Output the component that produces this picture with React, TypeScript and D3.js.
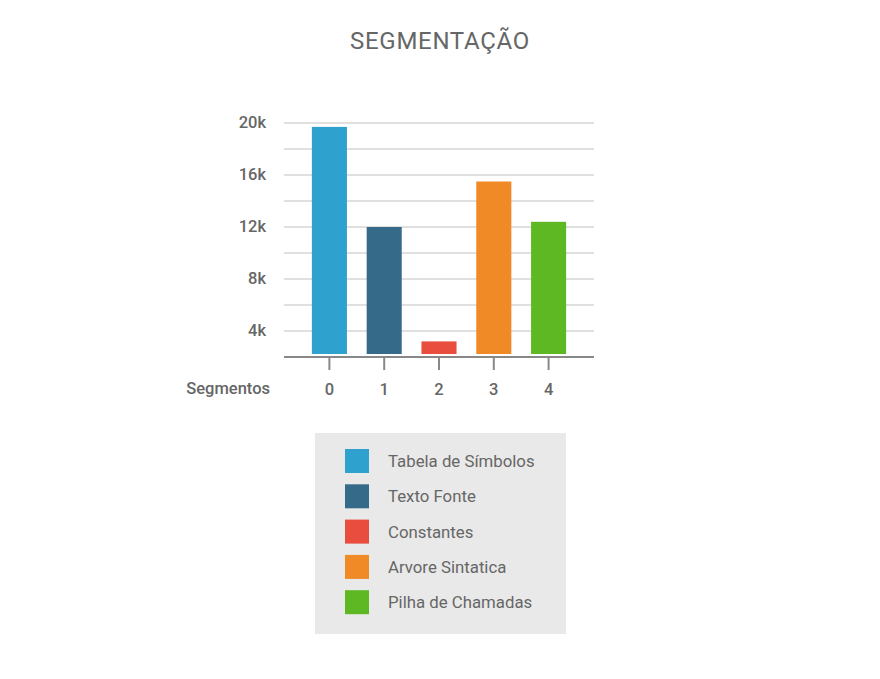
import React, { useRef, useEffect } from 'react';
import { select, scaleBand, scaleLinear } from 'd3';

const categories = ['0', '1', '2', '3', '4'];
const seriesNames = ['Tabela de Símbolos', 'Texto Fonte', 'Constantes', 'Arvore Sintatica', 'Pilha de Chamadas'];
const values = [19700, 12000, 3200, 15500, 12400];
const colors = ['#2ea1ce', '#366a89', '#e84d3d', '#ef8a27', '#5eb823'];
const yTicks = [4000, 8000, 12000, 16000, 20000];
const gridValues = [4000, 6000, 8000, 10000, 12000, 14000, 16000, 18000, 20000];

const FONT = 'Roboto, sans-serif';

export default function App() {
    const svgRef: { current: SVGSVGElement | null } = useRef(null);

    useEffect(() => {
        const svg = select(svgRef.current);
        svg.selectAll('*').remove();

        const plotLeft = 284;
        const plotRight = 594;
        const axisY = 357;

        const x = scaleBand<string>()
            .domain(categories)
            .range([302, 576])
            .paddingInner(0.36)
            .paddingOuter(0.18);
        const y = scaleLinear().domain([2000, 20000]).range([axisY, 123]);

        // title
        svg.append('text')
            .attr('x', 440)
            .attr('y', 49)
            .attr('text-anchor', 'middle')
            .attr('font-family', FONT)
            .attr('font-size', 24)
            .attr('letter-spacing', 0.7)
            .attr('fill', '#666')
            .text('SEGMENTAÇÃO');

        // grid
        svg.append('g')
            .selectAll('line')
            .data(gridValues)
            .join('line')
            .attr('x1', plotLeft)
            .attr('x2', plotRight)
            .attr('y1', (d) => y(d))
            .attr('y2', (d) => y(d))
            .attr('stroke', '#e0e0e0')
            .attr('stroke-width', 2);

        // y labels
        svg.append('g')
            .selectAll('text')
            .data(yTicks)
            .join('text')
            .attr('x', 266)
            .attr('y', (d) => y(d) + 5)
            .attr('text-anchor', 'end')
            .attr('font-family', FONT)
            .attr('font-weight', 500)
            .attr('font-size', 16.5)
            .attr('fill', '#666')
            .text((d) => `${d / 1000}k`);

        // bars
        svg.append('g')
            .selectAll('rect')
            .data(values)
            .join('rect')
            .attr('x', (d, i) => x(categories[i]) as number)
            .attr('width', x.bandwidth())
            .attr('y', (d) => y(d))
            .attr('height', (d) => axisY - 3 - y(d))
            .attr('fill', (d, i) => colors[i]);

        // x axis
        svg.append('line')
            .attr('x1', plotLeft)
            .attr('x2', plotRight)
            .attr('y1', axisY)
            .attr('y2', axisY)
            .attr('stroke', '#888')
            .attr('stroke-width', 2);

        const ticks = svg.append('g')
            .selectAll('g')
            .data(categories)
            .join('g')
            .attr('transform', (d) => `translate(${(x(d) as number) + x.bandwidth() / 2},0)`);
        ticks.append('line')
            .attr('y1', axisY)
            .attr('y2', axisY + 13)
            .attr('stroke', '#888')
            .attr('stroke-width', 2);
        ticks.append('text')
            .attr('y', 395)
            .attr('text-anchor', 'middle')
            .attr('font-family', FONT)
            .attr('font-weight', 500)
            .attr('font-size', 16.5)
            .attr('fill', '#666')
            .text((d) => d);

        svg.append('text')
            .attr('x', 270)
            .attr('y', 394)
            .attr('text-anchor', 'end')
            .attr('font-family', FONT)
            .attr('font-weight', 500)
            .attr('font-size', 16.5)
            .attr('fill', '#666')
            .text('Segmentos');

        // legend
        const legend = svg.append('g');
        legend.append('rect')
            .attr('x', 315)
            .attr('y', 433)
            .attr('width', 251)
            .attr('height', 201)
            .attr('fill', '#e9e9e9');
        const items = legend.selectAll('g.item')
            .data(seriesNames)
            .join('g')
            .attr('class', 'item')
            .attr('transform', (d, i) => `translate(0,${449 + i * 35.3})`);
        items.append('rect')
            .attr('x', 345)
            .attr('width', 24)
            .attr('height', 24)
            .attr('fill', (d, i) => colors[i]);
        items.append('text')
            .attr('x', 388)
            .attr('y', 18)
            .attr('font-family', FONT)
            .attr('font-size', 16.8)
            .attr('fill', '#666')
            .text((d) => d);
    }, []);

    return (
        <svg ref={svgRef} width={880} height={679} style={{ position: 'absolute', left: 0, top: 0 }}></svg>
    );
}
